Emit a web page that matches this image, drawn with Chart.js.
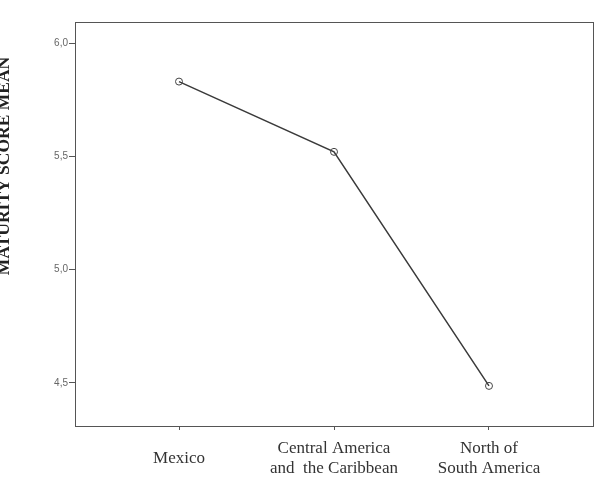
<!DOCTYPE html>
<html>
<head>
<meta charset="utf-8">
<script src="https://cdn.jsdelivr.net/npm/chart.js@4/dist/chart.umd.min.js"></script>
<style>
  html, body { margin: 0; padding: 0; background: #fff; }
  #wrap { width: 599px; height: 487px; }
</style>
</head>
<body>
<div id="wrap"><canvas id="grafico"></canvas></div>
<script>
// datos
const regiones = [["Mexico"], ["Central America", "and  the Caribbean"], ["North of", "South America"]];
const medias = [5.83, 5.52, 4.487];
const ticksY = [4.5, 5.0, 5.5, 6.0];
const tituloY = "MATURITY SCORE MEAN";

// el recuadro del area de dibujo y el titulo del eje y
const marco = {
  id: "marco",
  afterDraw(chart) {
    const ctx = chart.ctx;
    const a = chart.chartArea;
    ctx.save();
    ctx.strokeStyle = "#555";
    ctx.lineWidth = 1;
    ctx.strokeRect(a.left + 0.5, a.top + 0.5, a.right - a.left, a.bottom - a.top);
    ctx.translate(9, 166);
    ctx.rotate(-Math.PI / 2);
    ctx.font = "bold 17.5px 'Liberation Serif', 'Times New Roman', serif";
    ctx.fillStyle = "#222";
    ctx.textAlign = "center";
    ctx.textBaseline = "alphabetic";
    ctx.fillText(tituloY, 0, 0);
    ctx.restore();
  }
};

const puntos = medias.map((v, i) => ({ x: i, y: v }));

new Chart(document.getElementById("grafico"), {
  type: "line",
  data: {
    datasets: [{
      data: puntos,
      borderColor: "#3a3a3a",
      borderWidth: 1.5,
      pointRadius: 3.5,
      pointBorderWidth: 1,
      pointBorderColor: "#444",
      pointBackgroundColor: "rgba(255,255,255,0)",
      fill: false,
      tension: 0
    }]
  },
  options: {
    responsive: true,
    maintainAspectRatio: false,
    animation: false,
    layout: { padding: { left: 0, top: 22, right: 6, bottom: 0 } },
    plugins: { legend: { display: false }, tooltip: { enabled: false } },
    scales: {
      x: {
        type: "linear",
        min: -0.671,
        max: 2.671,
        afterBuildTicks(axis) {
          axis.ticks = regiones.map((r, i) => ({ value: i }));
        },
        afterFit(axis) { axis.height = 61; },
        grid: { drawOnChartArea: false, color: "#555", tickLength: 4 },
        border: { color: "#555" },
        ticks: {
          callback: (v) => regiones[v],
          color: "#333",
          padding: 19,
          maxRotation: 0,
          autoSkip: false,
          crossAlign: "center",
          font: { family: "'Liberation Serif', 'Times New Roman', serif", size: 17, lineHeight: 1.12 }
        }
      },
      y: {
        min: 4.31,
        max: 6.093,
        afterBuildTicks(axis) {
          axis.ticks = ticksY.map(v => ({ value: v }));
        },
        afterFit(axis) { axis.width = 75; },
        grid: { drawOnChartArea: false, color: "#555", tickLength: 6 },
        border: { color: "#555" },
        ticks: {
          callback: (v) => v.toFixed(1).replace(".", ","),
          color: "#666",
          padding: 1,
          font: { family: "'Liberation Sans', Arial, sans-serif", size: 10 }
        }
      }
    }
  },
  plugins: [marco]
});
</script>
</body>
</html>
